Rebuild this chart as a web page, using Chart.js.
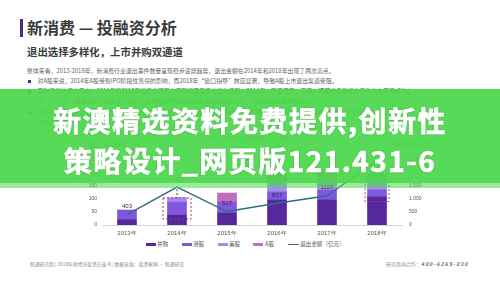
<!DOCTYPE html>
<html>
<head>
<meta charset="utf-8">
<script src="https://cdn.jsdelivr.net/npm/chart.js@4.4.1/dist/chart.umd.min.js"></script>
<style>
body { margin:0; width:500px; height:281px; overflow:hidden; background:#fff; position:relative;
       font-family:"Noto Sans CJK SC","Noto Sans",sans-serif; color:#333; }
.abs { position:absolute; white-space:nowrap; }
#bar { left:20px; top:19px; width:3px; height:18px; background:#4a2c7f; }
#title { left:27px; top:16px; font-size:16px; font-weight:bold; line-height:22px; color:#3a3a3a; }
#sub { left:27px; top:45px; font-size:10.4px; font-weight:bold; line-height:14px; color:#3a3a3a; }
.body { font-size:5.9px; line-height:8px; color:#666; }
.dot { display:inline-block; width:2.5px; height:2.5px; background:#4a2c7f; margin-right:7px; vertical-align:middle; }
.ctitle { font-size:5.5px; color:#777; }
#chart { position:absolute; left:60px; top:130px; }
.lg { position:absolute; top:241px; font-size:5.6px; line-height:7px; color:#555; white-space:nowrap; }
.sw { position:absolute; top:243px; width:10px; height:3px; }
#foot { left:30px; top:260px; font-size:4.8px; color:#8a8a8a; line-height:8px; }
#foot2 { left:386px; top:260px; font-size:5px; color:#888; line-height:8px; }
#foot2 b { font-style:italic; letter-spacing:1.2px; color:#666; }
#banner { position:absolute; left:0; top:89px; width:500px; height:94px; background:rgba(74,215,74,0.93); z-index:10; }
#band { position:absolute; left:0; top:183px; width:500px; height:5px; background:rgba(74,215,74,0.55); z-index:10; }
.bt { position:absolute; left:0; width:500px; text-align:center; z-index:11; color:#fff; font-weight:bold;
      font-size:28px; letter-spacing:1.5px; line-height:36px; -webkit-text-stroke:0.7px #fff;
      text-shadow:0 0 2px rgba(0,0,0,0.35); }
</style>
</head>
<body>
<div class="abs" id="bar"></div>
<div class="abs" id="title">新消费 — 投融资分析</div>
<div class="abs" id="sub">退出选择多样化，上市并购双通道</div>
<div class="abs body" style="left:27px;top:67px;">整体来看，2013-2018年，新消费行业退出事件数量呈现稳步递增趋势，退出金额在2014年和2018年出现了两次高点。</div>
<div class="abs body" style="left:28px;top:77px;"><span class="dot"></span>对A股来说，2014年A股受到IPO阶段性暂停的影响，而2018年“窗口指导”效应显著，导致A股上市退出渠道受阻。</div>
<div class="abs body" style="left:28px;top:87px;"><span class="dot"></span>而对于境外退出而言，2014年和2018年消费类项目在港股和美股退出最为活跃。2014年，阿里巴巴、京东、聚美优品等行业巨头均在美股成功上</div>
<div class="abs body" style="left:38px;top:97px;">市，2018年，美团点评、拼多多、蔚来汽车等新经济代表企业在港股和美股上市，带动退出金额大幅增长。</div>
<div class="abs body" style="left:28px;top:108px;"><span class="dot"></span>此外，并购退出数量逐年增长，已成为新消费行业最主要的退出方式，行业整合趋势明显，头部企业通过并购不断完善自身的产业布局与</div>
<div class="abs body" style="left:38px;top:118px;">生态体系。</div>
<div class="abs ctitle" style="left:207px;top:135px;">2013-2018年退出数量与退出金额</div>
<div class="abs ctitle" style="left:88px;top:140px;">单位：退出数量（件）</div>
<div class="abs ctitle" style="left:392px;top:140px;">退出金额（亿元）</div>

<canvas id="chart" width="380" height="110"></canvas>

<div class="sw" style="left:146px;background:#55299b;"></div><div class="lg" style="left:157px;">并购</div>
<div class="sw" style="left:182px;background:#8257e0;"></div><div class="lg" style="left:193px;">港股</div>
<div class="sw" style="left:218px;background:#a58cf0;"></div><div class="lg" style="left:229px;">美股</div>
<div class="sw" style="left:253px;background:#c06cbf;"></div><div class="lg" style="left:265px;">A股</div>
<div class="sw" style="left:288px;top:244px;width:11px;height:1.3px;background:#2f6d86;"></div><div class="lg" style="left:300px;">退出金额（亿元）</div>

<div class="abs" id="foot">智通研究院 | 2018年新经济投资白皮书 | 数据来源：投资家网 · 智通研究</div>
<div class="abs" id="foot2">研究咨询合作：<b>400-6265-030</b></div>

<div id="banner"></div>
<div id="band"></div>
<div class="bt" style="top:102px;">新澳精选资料免费提供,创新性</div>
<div class="bt" style="top:142px;">策略设计_网页版121.431-6</div>

<script>
// categories and series
const years = ['2013年', '2014年', '2015年', '2016年', '2017年', '2018年'];
const mergeCounts = [20, 38, 46, 96, 96, 108];   // 并购
const hkCounts = [37, 50, 42, 31, 38, 27];       // 港股
const usCounts = [0, 16, 0, 40, 45, 50];         // 美股
const aShareCounts = [0, 0, 35, 30, 35, 10];     // A股
const exitAmount = [403, 1456, 517, 837, 1126, 2480]; // 退出金额（亿元）
const countTicks = [0, 50, 100, 150, 200, 250, 300];
const amountTicks = [0, 500, 1000, 1500, 2000, 2500, 3000];

// value labels above the line points
const lineLabels = {
    id: 'lineLabels',
    afterDatasetsDraw(chart) {
        const meta = chart.getDatasetMeta(4);
        const ctx = chart.ctx;
        ctx.save();
        ctx.font = '6px "Liberation Sans", sans-serif';
        ctx.fillStyle = '#333';
        ctx.textAlign = 'center';
        ctx.textBaseline = 'middle';
        meta.data.forEach(function (pt, i) {
            ctx.fillText(String(exitAmount[i]), pt.x, pt.y - 8);
        });
        ctx.restore();
    }
};

// dashed highlight boxes on 2014 and 2018
const highlight = {
    id: 'highlight',
    afterDatasetsDraw(chart) {
        const ctx = chart.ctx;
        const y = chart.scales.y;
        const bars = chart.getDatasetMeta(0).data;
        ctx.save();
        ctx.setLineDash([2, 2]);
        ctx.lineWidth = 1;
        ctx.strokeStyle = '#b0307a';
        // 2014 whole bar
        let b = bars[1];
        let top = y.getPixelForValue(mergeCounts[1] + hkCounts[1] + usCounts[1] + aShareCounts[1]);
        ctx.strokeRect(b.x - 14, top, 28, y.getPixelForValue(0) - top - 6);
        ctx.strokeStyle = '#333';
        ctx.beginPath();
        ctx.moveTo(b.x, chart.getDatasetMeta(4).data[1].y + 2);
        ctx.lineTo(b.x, top);
        ctx.stroke();
        // 2018 upper part
        ctx.strokeStyle = '#b0307a';
        b = bars[5];
        top = y.getPixelForValue(mergeCounts[5] + hkCounts[5] + usCounts[5] + aShareCounts[5] + 5);
        ctx.strokeRect(b.x - 12, top, 24, y.getPixelForValue(90) - top);
        ctx.restore();
    }
};

new Chart(document.getElementById('chart'), {
    data: {
        labels: years,
        datasets: [
            { type: 'bar', label: '并购', data: mergeCounts, backgroundColor: '#55299b', stack: 's', order: 1, barThickness: 19 },
            { type: 'bar', label: '港股', data: hkCounts, backgroundColor: '#8257e0', stack: 's', order: 1, barThickness: 19 },
            { type: 'bar', label: '美股', data: usCounts, backgroundColor: '#a58cf0', stack: 's', order: 1, barThickness: 19 },
            { type: 'bar', label: 'A股', data: aShareCounts, backgroundColor: '#c06cbf', stack: 's', order: 1, barThickness: 19 },
            { type: 'line', label: '退出金额（亿元）', data: exitAmount, yAxisID: 'y1', borderColor: '#2f6d86',
              borderWidth: 1.4, pointRadius: 0, tension: 0, order: 0 }
        ]
    },
    options: {
        responsive: false,
        devicePixelRatio: 1,
        animation: false,
        layout: { padding: { top: 17 } },
        plugins: { legend: { display: false }, tooltip: { enabled: false } },
        scales: {
            x: {
                stacked: true,
                grid: { display: false, drawTicks: false },
                border: { color: '#d6d6d6' },
                ticks: { color: '#555', font: { size: 6 }, padding: 5 },
                afterFit: function (s) { s.height = 15; }
            },
            y: {
                stacked: true,
                position: 'left',
                min: countTicks[0], max: countTicks[countTicks.length - 1],
                grid: { display: false, drawTicks: false },
                border: { display: false },
                ticks: { stepSize: countTicks[1] - countTicks[0], color: '#555', font: { size: 5 }, padding: 5 },
                afterFit: function (s) { s.width = 42; }
            },
            y1: {
                position: 'right',
                min: amountTicks[0], max: amountTicks[amountTicks.length - 1],
                grid: { display: false, drawTicks: false },
                border: { display: false },
                ticks: { stepSize: amountTicks[1] - amountTicks[0], color: '#555', font: { size: 5 }, padding: 7 },
                afterFit: function (s) { s.width = 38; }
            }
        }
    },
    plugins: [lineLabels, highlight]
});
</script>
</body>
</html>
